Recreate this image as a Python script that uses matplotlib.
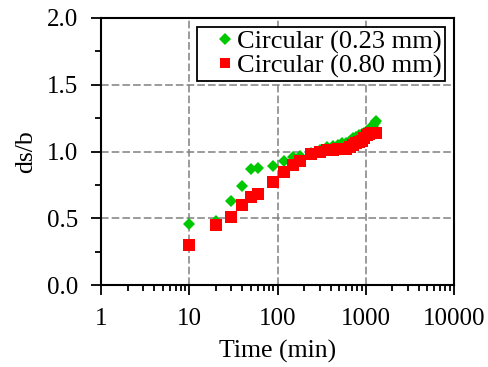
import matplotlib
matplotlib.use("Agg")
import matplotlib.pyplot as plt
from matplotlib.ticker import LogLocator, MultipleLocator, FixedLocator, FixedFormatter, NullFormatter, FormatStrFormatter

plt.rcParams['font.family'] = ['Liberation Serif', 'DejaVu Serif']

time_min = [10, 20, 30, 40, 50, 60, 90, 120, 150, 180, 240, 300, 360, 420, 480,
            540, 600, 660, 720, 780, 840, 900, 960, 1020, 1080, 1140, 1200, 1260, 1320]
ds_b_023 = [0.46, 0.48, 0.63, 0.74, 0.87, 0.88, 0.89, 0.93, 0.96, 0.97, 0.99, 1.01, 1.03, 1.04, 1.05,
            1.06, 1.06, 1.08, 1.10, 1.11, 1.12, 1.13, 1.14, 1.15, 1.16, 1.18, 1.19, 1.21, 1.23]
ds_b_080 = [0.30, 0.45, 0.51, 0.60, 0.66, 0.68, 0.77, 0.85, 0.90, 0.93, 0.98, 1.00, 1.01, 1.01, 1.02,
            1.02, 1.02, 1.03, 1.05, 1.06, 1.07, 1.08, 1.10, 1.12, 1.13, 1.14, 1.14, 1.14, 1.14]
labels = ["Circular (0.23 mm)", "Circular (0.80 mm)"]
x_ticks = [1, 10, 100, 1000, 10000]
x_tick_labels = ["1", "10", "100", "1000", "10000"]
y_ticks = [0.0, 0.5, 1.0, 1.5, 2.0]

fig = plt.figure(figsize=(4.89, 3.67), dpi=100)
ax = fig.add_axes([101/489, 1-285/367, (454-101)/489, (285-18)/367])

ax.plot(time_min, ds_b_023, linestyle='none', marker='D', markersize=6.4,
        color='#00C800', markeredgewidth=0, label=labels[0])
ax.plot(time_min, ds_b_080, linestyle='none', marker='s', markersize=8.6,
        color='#FF0000', markeredgewidth=0, label=labels[1])

ax.set_xscale('log')
ax.set_xlim(1, 10000)
ax.set_ylim(0, 2.0)
ax.xaxis.set_major_locator(FixedLocator(x_ticks))
ax.xaxis.set_major_formatter(FixedFormatter(x_tick_labels))
ax.xaxis.set_minor_locator(LogLocator(base=10, subs=range(2, 10), numticks=20))
ax.xaxis.set_minor_formatter(NullFormatter())
ax.yaxis.set_major_locator(FixedLocator(y_ticks))
ax.yaxis.set_major_formatter(FormatStrFormatter('%.1f'))
ax.yaxis.set_minor_locator(MultipleLocator(0.25))

ax.grid(True, which='major', linestyle=(0, (5, 2)), color='#808080', linewidth=1.1)
ax.set_axisbelow(True)
ax.tick_params(which='major', direction='out', length=7, width=1.3, labelsize=18, colors='black', pad=9.5)
ax.tick_params(which='minor', direction='out', length=4, width=1.3)
for s in ax.spines.values():
    s.set_linewidth(1.5)
    s.set_color('black')

ax.set_xlabel("Time (min)", fontsize=18.5, labelpad=7)
ax.set_ylabel("ds/b", fontsize=18.5, labelpad=7)

leg = ax.legend(loc='upper right', fontsize=19, frameon=True, fancybox=False,
                edgecolor='black', framealpha=1, borderpad=0.12, handlelength=1.86,
                handletextpad=-0.45, labelspacing=0.0, borderaxespad=0.33,
                markerscale=0.92)
leg.get_frame().set_linewidth(1.3)

fig.savefig("out.png", dpi=100)
